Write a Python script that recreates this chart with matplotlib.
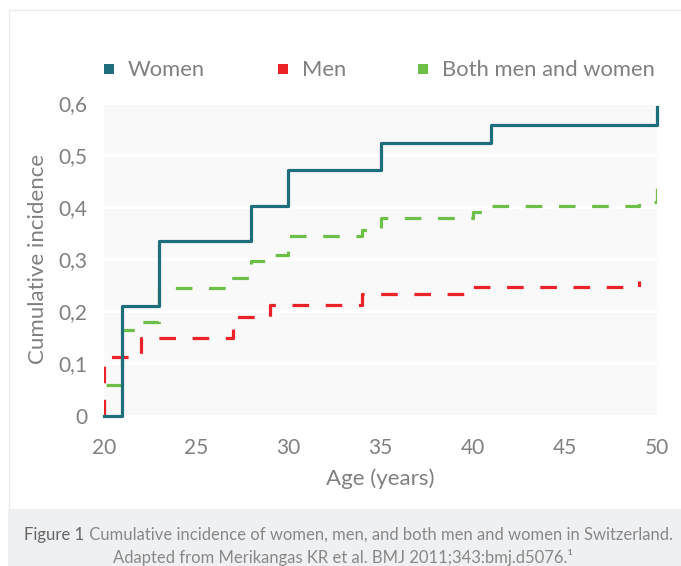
import matplotlib
matplotlib.use("Agg")
import matplotlib.pyplot as plt
from matplotlib.patches import Rectangle

# ---- data ----
women_age = [20, 21, 23, 28, 30, 35, 41, 50]
women_inc = [0.0, 0.211, 0.335, 0.402, 0.471, 0.524, 0.557, 0.592]

men_age = [20, 20, 22, 27, 29, 34, 40, 49]
men_inc = [0.0, 0.112, 0.149, 0.190, 0.212, 0.233, 0.247, 0.258]

both_age = [20, 20, 21, 22, 23, 27, 28, 29, 30, 34, 35, 40, 41, 49, 50]
both_inc = [0.0, 0.058, 0.164, 0.180, 0.244, 0.264, 0.297, 0.308, 0.345,
            0.357, 0.380, 0.390, 0.402, 0.410, 0.447]

series_names = ["Women", "Men", "Both men and women"]
x_ticks = [20, 25, 30, 35, 40, 45, 50]
y_ticks = [0, 0.1, 0.2, 0.3, 0.4, 0.5, 0.6]
y_tick_labels = ["0", "0,1", "0,2", "0,3", "0,4", "0,5", "0,6"]
x_label = "Age (years)"
y_label = "Cumulative incidence"
caption_bold = "Figure 1"
caption_1 = " Cumulative incidence of women, men, and both men and women in Switzerland."
caption_2 = "Adapted from Merikangas KR et al. BMJ 2011;343:bmj.d5076.¹"

# ---- style ----
plt.rcParams['font.family'] = ['Lato', 'DejaVu Sans']
C_WOMEN = "#1e6f7b"
C_MEN = "#ec2229"
C_BOTH = "#6cbf47"
TXT = "#808080"

W, H = 681, 566
fig = plt.figure(figsize=(W / 100, H / 100), dpi=100)
fig.patch.set_facecolor("white")

# card border and caption box
fig.add_artist(Rectangle((9 / W, 1 - 509 / H), 1.0, (509 - 10) / H,
                         transform=fig.transFigure, facecolor="white",
                         edgecolor="#ececec", linewidth=1.0, zorder=0))
fig.add_artist(Rectangle((8 / W, 0), 1.0, (566 - 509) / H,
                         transform=fig.transFigure, facecolor="#eff0f2",
                         edgecolor="none", zorder=0))

ax = fig.add_axes([104 / W, 1 - 415.5 / H, (657 - 104) / W, (415.5 - 103) / H])
ax.set_facecolor("#f9f9f9")
for s in ax.spines.values():
    s.set_visible(False)

ax.set_xlim(20, 50)
ax.set_ylim(0, 0.6)
ax.set_xticks(x_ticks)
ax.set_xticklabels([str(v) for v in x_ticks])
ax.set_yticks(y_ticks)
ax.set_yticklabels(y_tick_labels)
ax.tick_params(length=0, labelsize=15, colors=TXT)
ax.tick_params(axis='y', pad=12)
ax.tick_params(axis='x', pad=16)
ax.grid(axis='y', color="white", linewidth=2.3)
ax.set_axisbelow(True)

lw = 2.3
ax.plot(both_age, both_inc, drawstyle="steps-post", color=C_BOTH, lw=lw,
        dashes=(5.2, 5.2), zorder=3, dash_capstyle="butt")
ax.plot(men_age, men_inc, drawstyle="steps-post", color=C_MEN, lw=lw,
        dashes=(5.2, 5.2), zorder=4, dash_capstyle="butt")
ax.plot(women_age, women_inc, drawstyle="steps-post", color=C_WOMEN, lw=lw,
        zorder=5, clip_on=False)

# axis labels
fig.text(380.5 / W, 1 - 479 / H, x_label, ha="center", va="center",
         fontsize=16, color=TXT)
fig.text(38.5 / W, 1 - 259 / H, y_label, ha="center", va="center",
         rotation=90, fontsize=16, color=TXT)

# legend
leg_y = 1 - 69.5 / H
colors = [C_WOMEN, C_MEN, C_BOTH]
mark_x = [104, 278, 418]
text_x = [128, 301.5, 441.5]
for name, c, mx, tx in zip(series_names, colors, mark_x, text_x):
    fig.add_artist(Rectangle((mx / W, leg_y - 5 / H), 10 / W, 10 / H,
                             transform=fig.transFigure, facecolor=c,
                             edgecolor="none"))
    fig.text(tx / W, leg_y, name, ha="left", va="center", fontsize=15.8,
             color=TXT)

# caption (bold-ish lead + body on line 1)
fig.canvas.draw()
r = fig.canvas.get_renderer()
cap_fs = 12.0
tb = fig.text(0, 0, caption_bold, fontsize=cap_fs, color="#666666")
tr = fig.text(0, 0, caption_1, fontsize=cap_fs, color="#888888")
wb = tb.get_window_extent(r).width
wr = tr.get_window_extent(r).width
start = 348.5 - (wb + wr) / 2
base1 = 1 - 540 / H
tb.set_position((start / W, base1))
tb.set_va("baseline")
tr.set_position(((start + wb) / W, base1))
tr.set_va("baseline")
fig.text(343 / W, 1 - 563 / H, caption_2, ha="center", va="baseline",
         fontsize=cap_fs, color="#888888")

fig.savefig("out.png", dpi=100)
